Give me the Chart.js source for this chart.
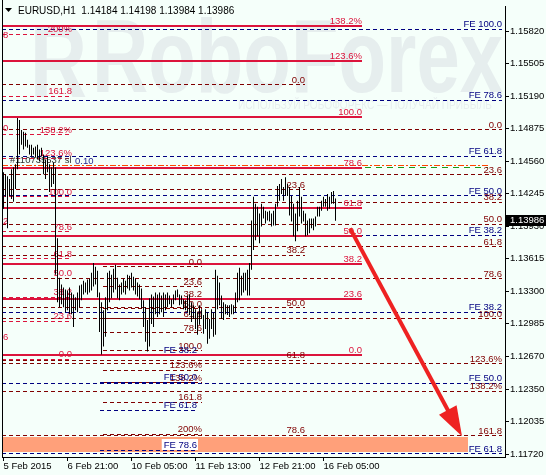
<!DOCTYPE html>
<html><head><meta charset="utf-8">
<script src="https://cdn.jsdelivr.net/npm/chart.js@4/dist/chart.umd.min.js"></script>
<style>html,body{margin:0;padding:0;background:#F5FFFA;overflow:hidden}</style>
</head><body>
<canvas id="c" width="546" height="475"></canvas>
<script>
// ---------------- DATA ----------------
const symbolTitle = 'EURUSD,H1';
const titleQuote = ['1.14184', '1.14198', '1.13984', '1.13986'];
const lastClose = 1.13986;

const timeLabels = ['5 Feb 2015', '6 Feb 21:00', '10 Feb 05:00', '11 Feb 13:00', '12 Feb 21:00', '16 Feb 05:00'];
const timeLabelBars = [0, 32, 64, 96, 128, 160];

const priceTicks = [1.15820, 1.15505, 1.15190, 1.14875, 1.14560, 1.14245, 1.13930, 1.13615, 1.13300, 1.12985, 1.12670, 1.12350, 1.12035, 1.11720];

const barHigh = [
1.14453,1.14434,1.14415,1.14387,1.14482,1.14501,1.14530,1.14979,1.14960,1.14864,
1.14845,1.14836,1.14769,1.14721,1.14721,1.14692,1.14702,1.14721,1.14673,1.14692,
1.14625,1.14578,1.14606,1.14530,1.14501,1.14549,1.14501,1.13813,1.13431,1.13364,
1.13335,1.13316,1.13307,1.13335,1.13288,1.13268,1.13240,1.13288,1.13354,1.13364,
1.13402,1.13383,1.13412,1.13421,1.13479,1.13574,1.13536,1.13498,1.13288,1.13192,
1.13115,1.13240,1.13479,1.13498,1.13460,1.13517,1.13555,1.13431,1.13364,1.13383,
1.13421,1.13402,1.13460,1.13450,1.13479,1.13440,1.13421,1.13383,1.13364,1.13326,
1.13211,1.13144,1.13021,1.13230,1.13268,1.13249,1.13288,1.13268,1.13288,1.13259,
1.13288,1.13268,1.13288,1.13259,1.13221,1.13268,1.13307,1.13316,1.13268,1.13259,
1.13221,1.13211,1.13259,1.13268,1.13192,1.13163,1.13125,1.13096,1.13163,1.13125,
1.13068,1.13125,1.13096,1.13030,1.13125,1.13096,1.13507,1.13450,1.13383,1.13259,
1.13192,1.13173,1.13163,1.13163,1.13173,1.13163,1.13288,1.13479,1.13526,1.13450,
1.13479,1.13479,1.13507,1.13574,1.13985,1.14215,1.14148,1.14119,1.14052,1.14148,
1.14119,1.14081,1.14071,1.14081,1.14052,1.14081,1.14148,1.14320,1.14339,1.14387,
1.14310,1.14406,1.14339,1.14310,1.14224,1.14148,1.14052,1.14176,1.14310,1.14215,
1.14081,1.14052,1.13985,1.14004,1.14004,1.14004,1.14023,1.14119,1.14119,1.14176,
1.14215,1.14195,1.14243,1.14215,1.14262,1.14272,1.14198];

const barLow = [
1.14100,1.14215,1.13909,1.14224,1.14195,1.14167,1.14291,1.14482,1.14625,1.14721,
1.14673,1.14702,1.14692,1.14625,1.14606,1.14625,1.14597,1.14578,1.14559,1.14606,
1.14434,1.14387,1.14453,1.14262,1.14310,1.14339,1.13460,1.13192,1.13144,1.13173,
1.13144,1.13096,1.13115,1.13077,1.13077,1.12953,1.13115,1.13096,1.13144,1.13211,
1.13268,1.13288,1.13268,1.13288,1.13307,1.13345,1.13364,1.13240,1.12905,1.12685,
1.12762,1.12857,1.13115,1.13192,1.13230,1.13288,1.13316,1.13230,1.13211,1.13268,
1.13288,1.13268,1.13326,1.13307,1.13335,1.13307,1.13268,1.13249,1.13221,1.13135,
1.12953,1.12810,1.12714,1.12762,1.12982,1.12953,1.13077,1.13049,1.13077,1.13096,
1.13049,1.13115,1.13144,1.13173,1.13144,1.13173,1.13211,1.13240,1.13163,1.13173,
1.13125,1.13115,1.13096,1.13068,1.13001,1.13030,1.12934,1.12877,1.12973,1.13030,
1.12886,1.12934,1.12791,1.12838,1.12934,1.12857,1.12877,1.13125,1.13163,1.13030,
1.13021,1.13077,1.13068,1.13049,1.13077,1.13077,1.13096,1.13192,1.13211,1.13259,
1.13288,1.13307,1.13259,1.13259,1.13507,1.13698,1.13794,1.13832,1.13765,1.13928,
1.14004,1.13957,1.13985,1.13976,1.13928,1.13937,1.13937,1.14119,1.14176,1.14243,
1.14176,1.14224,1.14224,1.14033,1.13976,1.13832,1.13784,1.13880,1.14023,1.13957,
1.13976,1.13832,1.13842,1.13861,1.13909,1.13890,1.13928,1.14023,1.14023,1.14081,
1.14119,1.14119,1.14081,1.14100,1.14148,1.14148,1.13984];

// Fibonacci objects (level text and level price)
const fibA_text  = ['0.0','23.6','38.2','50.0','61.8','78.6','100.0','123.6%','138.2%'];
const fibA_price = [1.12676,1.13222,1.13560,1.13833,1.14105,1.14494,1.14989,1.15535,1.15873];
const fibB_text  = ['0.0','23.6','38.2','50.0','61.8','78.6','100.0','123.6%','138.2%','161.8'];
const fibB_price = [1.14864,1.14431,1.14163,1.13947,1.13731,1.13422,1.13030,1.12597,1.12329,1.11897];
const fibC_text  = ['0.0','23.6','38.2','50.0','61.8','78.6'];
const fibC_price = [1.15304,1.14282,1.13650,1.13140,1.12629,1.11902];
const fibD_text  = ['0.0','23.6','38.2','50.0','61.8','78.6','100.0','123.6%','138.2%','161.8','200%'];
const fibD_price = [1.13536,1.13344,1.13226,1.13130,1.13034,1.12898,1.12724,1.12532,1.12414,1.12222,1.11912];
const fibE_text  = ['0.0','23.6','38.2','50.0','61.8','78.6','100.0','123.6%','138.2%','161.8','200%'];
const fibE_price = [1.12638,1.13010,1.13240,1.13427,1.13613,1.13878,1.14215,1.14587,1.14817,1.15190,1.15792];
const feF_text   = ['FE 38.2','FE 50.0','FE 61.8','FE 78.6','FE 100.0'];
const feF_price  = [1.13844,1.14226,1.14607,1.15150,1.15842];
const feG_text   = ['FE 38.2','FE 50.0','FE 61.8'];
const feG_price  = [1.13096,1.12408,1.11725];
const feH_text   = ['FE 38.2','FE 50.0','FE 61.8','FE 78.6'];
const feH_price  = [1.12685,1.12418,1.12145,1.11758];

const orderLabel = ['#110735537 sl', '0.10'];
const orderLinePrice = [1.14525, 1.14506];
const targetZone = [1.11739, 1.11887];
const arrowFrom = [173.25, 1.13909];
const arrowTo = [229.25, 1.11892];
const cutLabels = ['8', '0', '2', '6'];
const cutLabelPrice = [1.15758, 1.14850, 1.13949, 1.12830];

// ---------------- STYLE ----------------
const BG = '#F5FFFA', CRIMSON = '#DC143C', MAROON = '#800000', NAVY = '#000080';
const FONT = '"Liberation Sans", Arial, sans-serif';
const X_LEFT = -0.75, X_RIGHT = 250.75;
const fibSets = [
  {text: fibE_text, price: fibE_price, from: X_LEFT, to: 34.25, color: CRIMSON, width: 1, dash: [4,3], label: CRIMSON},
  {text: fibC_text, price: fibC_price, from: X_LEFT, to: 150.75, color: MAROON, width: 1, dash: [4,3], label: MAROON},
  {text: fibB_text, price: fibB_price, from: X_LEFT, to: 249.25, color: MAROON, width: 1, dash: [4,3], label: MAROON},
  {text: fibD_text, price: fibD_price, from: 49.75, to: 99.25, color: MAROON, width: 1, dash: [4,3], label: MAROON},
  {text: feF_text, price: feF_price, from: X_LEFT, to: 249.25, color: NAVY, width: 1, dash: [4,3], label: NAVY},
  {text: feG_text, price: feG_price, from: X_LEFT, to: 249.25, color: NAVY, width: 1, dash: [4,3], label: NAVY},
  {text: feH_text, price: feH_price, from: 48.25, to: 96.75, color: NAVY, width: 1, dash: [4,3], label: NAVY, boxLast: true},
  {text: fibA_text, price: fibA_price, from: X_LEFT, to: 179.25, color: CRIMSON, width: 2, dash: [], label: CRIMSON}
];

function fitText(ctx, text, x, y, w, font) {
  ctx.save(); ctx.font = font;
  const m = ctx.measureText(text).width;
  ctx.translate(x, y); ctx.scale(w / m, 1); ctx.fillText(text, 0, 0);
  ctx.restore();
}

const annot = {
  id: 'annot',
  beforeDraw(chart) {
    const ctx = chart.ctx;
    ctx.save();
    ctx.fillStyle = BG; ctx.fillRect(0, 0, chart.width, chart.height);
    ctx.fillStyle = '#E6EEEE'; ctx.textBaseline = 'alphabetic';
    fitText(ctx, 'R', 30, 97, 57, 'bold 104px ' + FONT);
    fitText(ctx, 'RoboForex', 92, 92, 411, 'bold 104px ' + FONT);
    ctx.fillStyle = '#E8EFEF';
    fitText(ctx, 'ИСПОЛЬЗУЙ РОБОФОРЕКС — ПОЛУЧАЙ ПРИБЫЛЬ', 238, 109, 254, '13px ' + FONT);
    ctx.restore();
  },
  beforeDatasetsDraw(chart) {
    const ctx = chart.ctx, xs = chart.scales.x, ys = chart.scales.y, a = chart.chartArea;
    ctx.save();
    ctx.beginPath(); ctx.rect(a.left, a.top, a.right - a.left, a.bottom - a.top); ctx.clip();
    // target zone
    const zx0 = xs.getPixelForValue(X_LEFT), zx1 = xs.getPixelForValue(232.25);
    const zy0 = ys.getPixelForValue(targetZone[1]), zy1 = ys.getPixelForValue(targetZone[0]);
    ctx.fillStyle = '#FFA07A';
    ctx.fillRect(zx0, Math.round(zy0), zx1 - zx0, Math.round(zy1) - Math.round(zy0));
    // order lines
    const oc = ['#FF4500', '#1A9A1A'], od = [[6,2,2,2],[6,5]];
    orderLinePrice.forEach((p, i) => {
      const y = Math.round(ys.getPixelForValue(p)) + 0.5;
      ctx.strokeStyle = oc[i]; ctx.lineWidth = 1; ctx.setLineDash(od[i]);
      ctx.beginPath(); ctx.moveTo(xs.getPixelForValue(X_LEFT), y); ctx.lineTo(xs.getPixelForValue(242.25), y); ctx.stroke();
    });
    // fib lines
    fibSets.forEach(s => {
      const x0 = xs.getPixelForValue(s.from), x1 = xs.getPixelForValue(s.to);
      s.price.forEach(p => {
        let y = ys.getPixelForValue(p);
        y = s.width % 2 ? Math.round(y - 0.5) + 0.5 : Math.round(y);
        ctx.strokeStyle = s.color; ctx.lineWidth = s.width; ctx.setLineDash(s.dash);
        ctx.beginPath(); ctx.moveTo(x0, y); ctx.lineTo(x1, y); ctx.stroke();
      });
    });
    ctx.setLineDash([]);
    // fib labels
    ctx.font = '9.5px ' + FONT; ctx.textAlign = 'right'; ctx.textBaseline = 'alphabetic';
    fibSets.forEach(s => {
      const x1 = xs.getPixelForValue(s.to);
      s.price.forEach((p, i) => {
        const y = Math.round(ys.getPixelForValue(p)) - 2;
        if (s.boxLast && i === s.price.length - 1) {
          const w = ctx.measureText(s.text[i]).width;
          ctx.fillStyle = '#FFFFFF'; ctx.fillRect(x1 - w - 2, y - 9, w + 3, 11);
        }
        ctx.fillStyle = s.label; ctx.fillText(s.text[i], x1, y);
      });
    });
    // cut labels at the left edge
    ctx.textAlign = 'left'; ctx.fillStyle = CRIMSON;
    cutLabels.forEach((t, i) => ctx.fillText(t, a.left + 1, Math.round(ys.getPixelForValue(cutLabelPrice[i]))));
    // order label
    const oy = Math.round(ys.getPixelForValue(orderLinePrice[0])) - 2;
    ctx.fillStyle = '#303030'; ctx.fillText(orderLabel[0], 10, oy);
    ctx.fillStyle = '#1E1E8C'; ctx.fillText(orderLabel[1], 75, oy + 1);
    ctx.restore();
  },
  afterDatasetsDraw(chart) {
    const ctx = chart.ctx, xs = chart.scales.x, ys = chart.scales.y, a = chart.chartArea;
    ctx.save();
    // arrow
    const sx = xs.getPixelForValue(arrowFrom[0]), sy = ys.getPixelForValue(arrowFrom[1]);
    const tx = xs.getPixelForValue(arrowTo[0]), ty = ys.getPixelForValue(arrowTo[1]);
    const L = Math.hypot(tx - sx, ty - sy), ux = (tx - sx) / L, uy = (ty - sy) / L;
    const bx = tx - 30 * ux, by = ty - 30 * uy;
    ctx.strokeStyle = '#EE2222'; ctx.lineWidth = 4; ctx.lineCap = 'butt';
    ctx.beginPath(); ctx.moveTo(sx, sy); ctx.lineTo(bx + 4 * ux, by + 4 * uy); ctx.stroke();
    ctx.fillStyle = '#EE2222';
    ctx.beginPath(); ctx.moveTo(tx, ty); ctx.lineTo(bx - 10 * uy, by + 10 * ux); ctx.lineTo(bx + 10 * uy, by - 10 * ux); ctx.closePath(); ctx.fill();
    // left frame
    ctx.fillStyle = '#000'; ctx.fillRect(a.left, 0, 1, a.bottom);
    // last price box
    const py = Math.round(ys.getPixelForValue(lastClose));
    ctx.fillStyle = '#000'; ctx.fillRect(a.right + 1, py - 5, chart.width - a.right - 1, 11);
    ctx.fillStyle = '#FFF'; ctx.font = '9.5px ' + FONT; ctx.textAlign = 'left'; ctx.textBaseline = 'middle';
    ctx.fillText(lastClose.toFixed(5), a.right + 5, py + 0.5);
    // header
    ctx.fillStyle = '#000';
    ctx.beginPath(); ctx.moveTo(5, 8); ctx.lineTo(12, 8); ctx.lineTo(8.5, 12); ctx.closePath(); ctx.fill();
    ctx.textBaseline = 'alphabetic'; ctx.font = '10px ' + FONT;
    ctx.fillText(symbolTitle + '  ' + titleQuote.join(' '), 18, 14);
    ctx.restore();
  }
};

const bars = barHigh.map((h, i) => ({x: i, y: [barLow[i], h]}));

new Chart(document.getElementById('c'), {
  type: 'bar',
  data: {datasets: [{data: bars, backgroundColor: '#000', borderWidth: 0, barThickness: 1, inflateAmount: 0, order: 0}]},
  options: {
    responsive: false, animation: false, devicePixelRatio: 1,
    layout: {padding: {left: 2, top: 0, right: 0, bottom: 0}},
    plugins: {legend: {display: false}, tooltip: {enabled: false}},
    scales: {
      x: {
        type: 'linear', min: X_LEFT, max: X_RIGHT, offset: false,
        grid: {offset: false, drawOnChartArea: false, drawTicks: true, tickLength: 4, color: '#000'},
        border: {display: true, color: '#000'},
        afterBuildTicks: s => { s.ticks = timeLabelBars.map(v => ({value: v})); },
        ticks: {autoSkip: false, maxRotation: 0, minRotation: 0, align: 'start', padding: 0, color: '#000',
          font: {family: FONT, size: 9.5},
          callback: v => timeLabels[timeLabelBars.indexOf(v)]},
        afterFit: s => { s.height = 18; }
      },
      y: {
        type: 'linear', position: 'right', min: 1.1169145, max: 1.16059, beginAtZero: false,
        grid: {drawOnChartArea: false, drawTicks: true, tickLength: 4, color: '#000'},
        border: {display: true, color: '#000'},
        afterBuildTicks: s => { s.ticks = priceTicks.map(v => ({value: v})); },
        ticks: {autoSkip: false, padding: 1, color: '#000', font: {family: FONT, size: 9.5},
          callback: v => Number(v).toFixed(5)},
        afterFit: s => { s.width = 41; }
      }
    }
  },
  plugins: [annot]
});
</script>
</body></html>
